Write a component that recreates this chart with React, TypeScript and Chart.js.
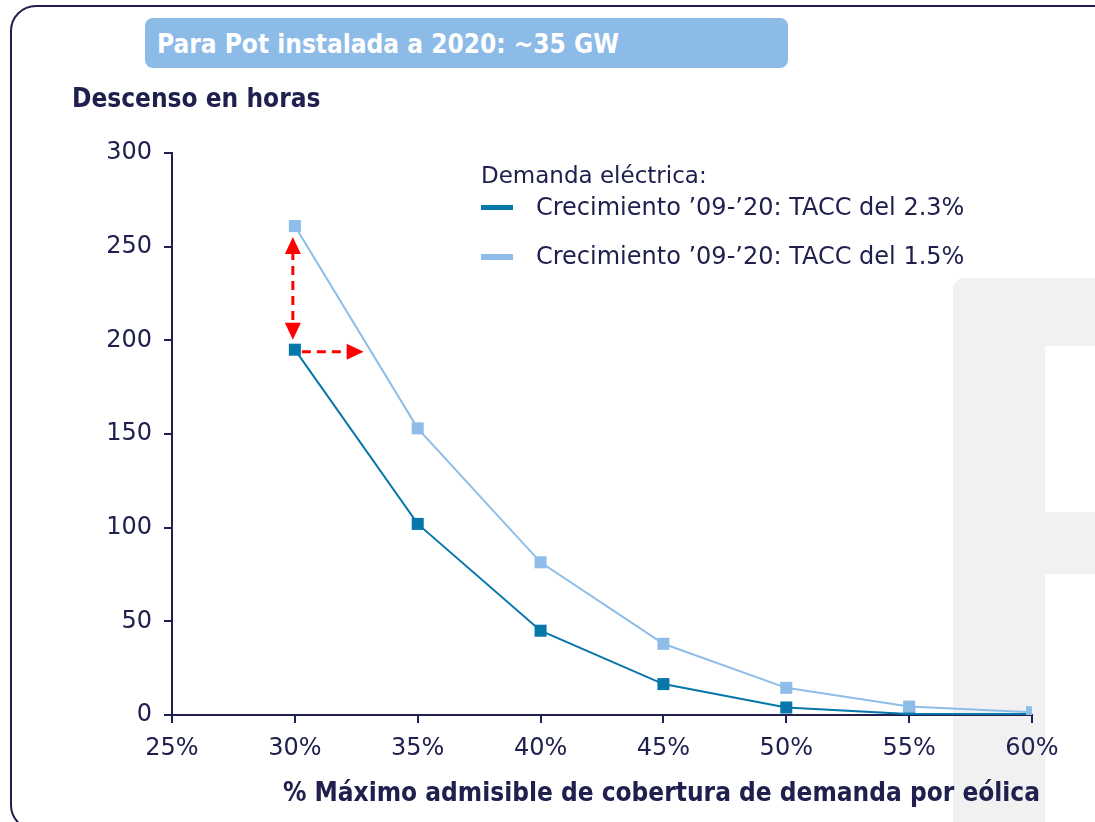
import React, { useEffect, useRef } from "react";
import { Chart, registerables } from "chart.js";

Chart.register(...registerables);

// % máximo admisible de cobertura de demanda por eólica
const coverage = [30, 35, 40, 45, 50, 55, 60];
// Descenso en horas, crecimiento de demanda TACC 2.3%
const growth23 = [195, 102, 45, 16.5, 4, 0.5, 0.5];
// Descenso en horas, crecimiento de demanda TACC 1.5%
const growth15 = [261, 153, 81.5, 38, 14.5, 4.5, 1.5];

const seriesLabels = [
  "Crecimiento \u201909-\u201920: TACC del 2.3%",
  "Crecimiento \u201909-\u201920: TACC del 1.5%",
];
const legendTitle = "Demanda eléctrica:";
const bannerText = "Para Pot instalada a 2020: ~35 GW";
const yTitle = "Descenso en horas";
const xTitle = "% Máximo admisible de cobertura de demanda por eólica";
const xTicks = { min: 25, max: 60, step: 5 };
const yTicks = { min: 0, max: 300, step: 50 };
// horizontal arrow reaches this coverage value
const arrowEndX = 32.8;

const NAVY = "#20204F";
const DARK = "#0677AA";
const LIGHT = "#8DBDE8";
const RED = "#FF0000";
const FONT = "'DejaVu Sans', Verdana, sans-serif";
const BOLD_FONT = "'DejaVu Sans Condensed', 'DejaVu Sans', sans-serif";

function drawHead(ctx: CanvasRenderingContext2D, x: number, y: number, angle: number) {
  const len = 17;
  const half = 8;
  ctx.save();
  ctx.translate(x, y);
  ctx.rotate(angle);
  ctx.beginPath();
  ctx.moveTo(0, 0);
  ctx.lineTo(-len, -half);
  ctx.lineTo(-len, half);
  ctx.closePath();
  ctx.fill();
  ctx.restore();
}

const arrowsPlugin = {
  id: "gapArrows",
  afterDatasetsDraw(chart: any) {
    const { ctx, scales } = chart;
    const xs = scales.x;
    const ys = scales.y;
    const x0 = xs.getPixelForValue(coverage[0]) - 2;
    const yTop = ys.getPixelForValue(growth15[0]) + 11;
    const yBot = ys.getPixelForValue(growth23[0]) - 10;
    const yH = ys.getPixelForValue(growth23[0]) + 2;
    const xEnd = xs.getPixelForValue(arrowEndX);
    ctx.save();
    ctx.strokeStyle = RED;
    ctx.fillStyle = RED;
    ctx.lineWidth = 3;
    ctx.setLineDash([9, 6]);
    ctx.beginPath();
    ctx.moveTo(x0, yTop + 14);
    ctx.lineTo(x0, yBot - 14);
    ctx.stroke();
    ctx.beginPath();
    ctx.moveTo(x0 + 9, yH);
    ctx.lineTo(xEnd - 14, yH);
    ctx.stroke();
    ctx.setLineDash([]);
    drawHead(ctx, x0, yTop, -Math.PI / 2);
    drawHead(ctx, x0, yBot, Math.PI / 2);
    drawHead(ctx, xEnd, yH, 0);
    ctx.restore();
  },
};

export default function App() {
  const ref = useRef<HTMLCanvasElement>(null);

  useEffect(() => {
    if (!ref.current) return;
    const chart = new Chart(ref.current, {
      type: "line",
      data: {
        datasets: [
          {
            label: seriesLabels[1],
            data: coverage.map((c, i) => ({ x: c, y: growth15[i] })),
            borderColor: LIGHT,
            backgroundColor: LIGHT,
            borderWidth: 2,
            pointStyle: "rect",
            pointRadius: 8.5,
            pointBorderWidth: 0,
          },
          {
            label: seriesLabels[0],
            data: coverage.map((c, i) => ({ x: c, y: growth23[i] })),
            borderColor: DARK,
            backgroundColor: DARK,
            borderWidth: 2,
            pointStyle: "rect",
            pointRadius: 8.5,
            pointBorderWidth: 0,
          },
        ],
      },
      options: {
        responsive: false,
        animation: false,
        devicePixelRatio: 1,
        layout: { padding: { left: 82, top: 153, right: 63, bottom: 0 } },
        plugins: { legend: { display: false }, tooltip: { enabled: false }, title: { display: false } },
        scales: {
          x: {
            type: "linear",
            min: xTicks.min,
            max: xTicks.max,
            afterFit: (s: any) => {
              s.height = 107;
            },
            ticks: {
              stepSize: xTicks.step,
              callback: (v: any) => `${v}%`,
              color: NAVY,
              font: { family: FONT, size: 24 },
              padding: 11,
              maxRotation: 0,
            },
            grid: { drawOnChartArea: false, drawTicks: true, tickLength: 8, color: NAVY, lineWidth: 2 },
            border: { display: true, color: NAVY, width: 2 },
          },
          y: {
            type: "linear",
            min: yTicks.min,
            max: yTicks.max,
            afterFit: (s: any) => {
              s.width = 90;
            },
            ticks: {
              stepSize: yTicks.step,
              color: NAVY,
              font: { family: FONT, size: 24 },
              padding: 12,
            },
            grid: { drawOnChartArea: false, drawTicks: true, tickLength: 8, color: NAVY, lineWidth: 2 },
            border: { display: true, color: NAVY, width: 2 },
          },
        },
      },
      plugins: [arrowsPlugin],
    } as any);
    return () => chart.destroy();
  }, []);

  const text = { position: "absolute" as const, whiteSpace: "nowrap" as const, fontFamily: FONT };
  const bold = { ...text, fontFamily: BOLD_FONT, fontWeight: "bold" as const, fontSize: 26, lineHeight: "32px" };

  return (
    <div
      style={{
        position: "fixed",
        left: 0,
        top: 0,
        width: 1095,
        height: 822,
        overflow: "hidden",
        background: "#fff",
        fontFamily: FONT,
      }}
    >
      {/* faint background emblem */}
      <div style={{ position: "absolute", left: 953, top: 278, width: 92, height: 560, background: "#F1F1F1", borderTopLeftRadius: 12 }} />
      <div style={{ position: "absolute", left: 1045, top: 278, width: 60, height: 68, background: "#F1F1F1" }} />
      <div style={{ position: "absolute", left: 1045, top: 512, width: 60, height: 62, background: "#F1F1F1" }} />

      {/* frame */}
      <div
        style={{
          position: "absolute",
          left: 10,
          top: 5,
          width: 1120,
          height: 826,
          border: `2.5px solid ${NAVY}`,
          borderRadius: 26,
          boxSizing: "border-box",
        }}
      />

      <canvas ref={ref} width={1095} height={822} style={{ position: "absolute", left: 0, top: 0, width: 1095, height: 822 }} />

      {/* banner */}
      <div
        style={{
          position: "absolute",
          left: 145,
          top: 18,
          width: 643,
          height: 50,
          background: "#8CBBE8",
          borderRadius: 8,
        }}
      />
      <div style={{ ...bold, left: 157, top: 28, color: "#fff" }}>{bannerText}</div>

      <div style={{ ...bold, left: 72, top: 82, color: NAVY }}>{yTitle}</div>

      <div style={{ ...bold, right: 55, top: 776, color: NAVY }}>{xTitle}</div>

      {/* legend */}
      <div style={{ ...text, left: 481, top: 159, color: NAVY, fontSize: 23, lineHeight: "32px" }}>{legendTitle}</div>
      <div style={{ position: "absolute", left: 481, top: 205, width: 32, height: 5, background: DARK }} />
      <div style={{ ...text, left: 536, top: 191, color: NAVY, fontSize: 24, lineHeight: "32px" }}>{seriesLabels[0]}</div>
      <div style={{ position: "absolute", left: 481, top: 254, width: 32, height: 6, background: LIGHT }} />
      <div style={{ ...text, left: 536, top: 240, color: NAVY, fontSize: 24, lineHeight: "32px" }}>{seriesLabels[1]}</div>
    </div>
  );
}
